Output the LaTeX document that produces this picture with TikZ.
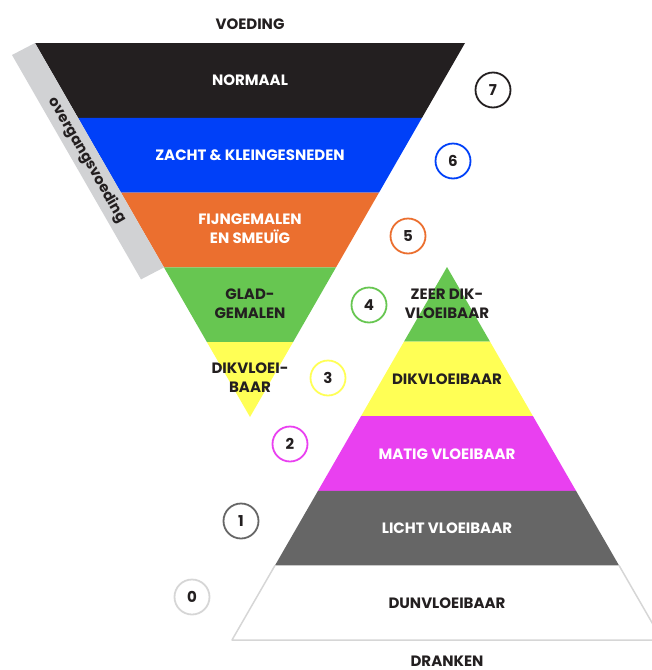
\documentclass[tikz,border=0pt]{standalone}
\usepackage{fontspec}
\setmainfont{Poppins}[BoldFont={Poppins Bold}]
\usetikzlibrary{calc}
\definecolor{zwart}{HTML}{231F20}
\definecolor{blauw}{HTML}{0040F8}
\definecolor{oranje}{HTML}{EB6F2F}
\definecolor{groen}{HTML}{67C651}
\definecolor{geel}{HTML}{FFFF55}
\definecolor{roze}{HTML}{E940F0}
\definecolor{grijs}{HTML}{666666}
\definecolor{lichtgrijs}{HTML}{D6D6D6}
\definecolor{strookgrijs}{HTML}{D1D2D4}

\begin{document}
\begin{tikzpicture}[x=1pt, y=-1pt,
  lbl/.style = {font=\bfseries\fontsize{15}{19}\selectfont, align=center, text=zwart, inner sep=0pt},
  wlbl/.style = {lbl, text=white},
  num/.style = {circle, line width=1.8pt, minimum size=35pt, inner sep=0pt, font=\bfseries\fontsize{15}{15}\selectfont, text=zwart}]
\useasboundingbox (0,0) rectangle (652,670);
\clip (0,0) rectangle (652,670);

\coordinate (tl) at (35,43);
\coordinate (tr) at (465,43);
\coordinate (ta) at (250,417);
\coordinate (ba) at (447,267);
\coordinate (bl) at (232,640);
\coordinate (br) at (662,640);

% voeding (omgekeerd)
\foreach \c [count=\i from 0] in {zwart,blauw,oranje,groen,geel}{
  \pgfmathsetmacro\a{\i/5}
  \pgfmathsetmacro\b{(\i+1)/5}
  \fill[\c] ($(tl)!\a!(ta)$) -- ($(tr)!\a!(ta)$) -- ($(tr)!\b!(ta)$) -- ($(tl)!\b!(ta)$) -- cycle;
}
\fill[strookgrijs] (tl) -- ($(tl)!0.6!(ta)$) -- ++(-23,12) -- ($(tl)+(-23,12)$) -- cycle;
\node[lbl, rotate=-60, font=\bfseries\fontsize{14.5}{14.5}\selectfont] (overgang) at ($(tl)!0.3!(ta)+(-12,5)$) {overgangsvoeding};

% dranken
\foreach \c [count=\i from 0] in {groen,geel,roze,grijs}{
  \pgfmathsetmacro\a{\i/5}
  \pgfmathsetmacro\b{(\i+1)/5}
  \fill[\c] ($(ba)!\a!(bl)$) -- ($(ba)!\a!(br)$) -- ($(ba)!\b!(br)$) -- ($(ba)!\b!(bl)$) -- cycle;
}
\draw[lichtgrijs, line width=1.5pt, line join=round] ($(ba)!0.8!(bl)$) -- (bl) -- (br) -- ($(ba)!0.8!(br)$);

\node[lbl] (voeding) at (250,24) {VOEDING};
\node[lbl] (dranken) at (447,661) {DRANKEN};

\node[wlbl] (normaal) at (250,80) {NORMAAL};
\node[wlbl] (zacht) at (250,155) {ZACHT \& KLEINGESNEDEN};
\node[wlbl] (fijn) at (250,229) {FIJNGEMALEN\\EN SMEUÏG};
\node[lbl] (glad) at (250,304) {GLAD-\\GEMALEN};
\node[lbl] (dikv) at (250,378) {DIKVLOEI-\\BAAR};

\node[lbl] (zeerdik) at (447,304) {ZEER DIK-\\VLOEIBAAR};
\node[lbl] (dik) at (447,379) {DIKVLOEIBAAR};
\node[wlbl] (matig) at (447,454) {MATIG VLOEIBAAR};
\node[wlbl] (licht) at (447,528) {LICHT VLOEIBAAR};
\node[lbl] (dun) at (447,603) {DUNVLOEIBAAR};

\node[num, draw=zwart] (n7) at (493,90) {7};
\node[num, draw=blauw] (n6) at (453,161) {6};
\node[num, draw=oranje] (n5) at (408,236) {5};
\node[num, draw=groen] (n4) at (369,305) {4};
\node[num, draw=geel] (n3) at (328,378) {3};
\node[num, draw=roze] (n2) at (290,444) {2};
\node[num, draw=grijs] (n1) at (241,521) {1};
\node[num, draw=lichtgrijs] (n0) at (192,597) {0};

\end{tikzpicture}
\end{document}
